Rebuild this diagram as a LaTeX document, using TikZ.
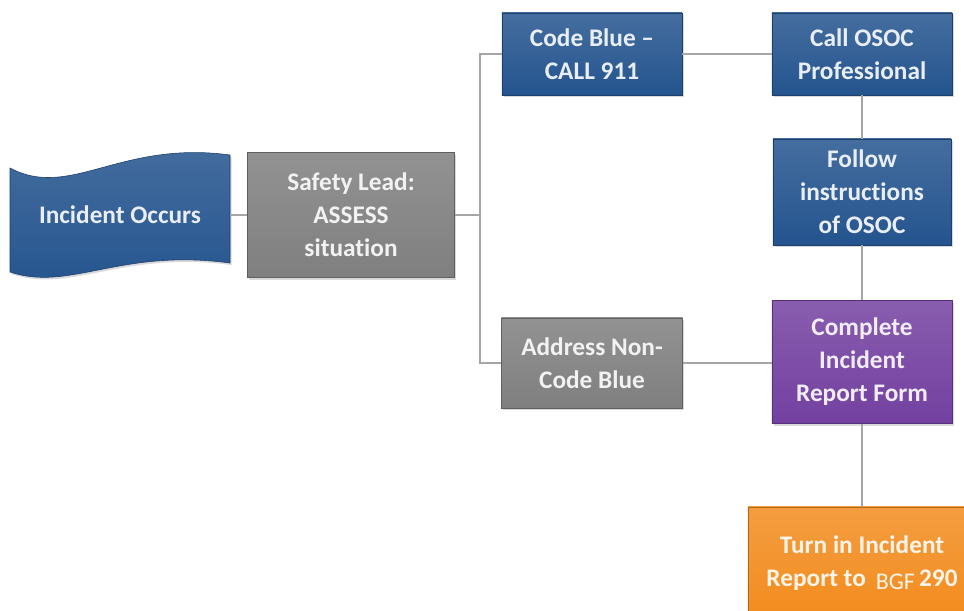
\documentclass[tikz,border=0pt]{standalone}
\usepackage{fontspec}
\setmainfont{Carlito}[Ligatures=NoCommon]
\usetikzlibrary{shadows}
\definecolor{cblue}{HTML}{24548E}
\definecolor{cgray}{HTML}{7F7F7F}
\definecolor{cpurple}{HTML}{7340A0}
\definecolor{corange}{HTML}{F28C1E}
\definecolor{cline}{HTML}{A6A6A6}

\begin{document}
\begin{tikzpicture}[x=0.025cm,y=-0.025cm,
	box/.style={rectangle,draw=#1!75!black,line width=0.4pt,top color=#1!85!white,bottom color=#1,
		text=white!90!#1,font=\fontsize{18}{23.5}\selectfont\bfseries,align=center,inner sep=0pt,
		drop shadow={shadow xshift=1.2pt,shadow yshift=-1.5pt,opacity=0.3}},
	link/.style={draw=cline,line width=1pt}]
	\useasboundingbox (0,0) rectangle (964,610);
	\clip (0,0) rectangle (964,610);
	% wave shape
	\path[top color=cblue!85!white,bottom color=cblue,draw=cblue!75!black,line width=0.4pt,
		drop shadow={shadow xshift=1.2pt,shadow yshift=-1.5pt,opacity=0.3}]
		(10,168) .. controls (70,200) and (120,140) .. (230,155) -- (230,263)
		.. controls (120,248) and (70,292) .. (10,272) -- cycle;
	\node[text=white!90!cblue,font=\fontsize{18}{23.5}\selectfont\bfseries,
		minimum width=5.5cm,inner sep=0pt] (occ) at (120,215) {Incident Occurs};
	\node[box=cgray,minimum width=5.175cm,minimum height=3.125cm] (lead) at (351,215) {Safety Lead:\\ASSESS\\situation};
	\node[box=cblue,minimum width=4.5cm,minimum height=2.05cm] (blue) at (592,54) {Code Blue --\\CALL 911};
	\node[box=cblue,minimum width=4.5cm,minimum height=2.05cm] (osoc) at (862,54) {Call OSOC\\Professional};
	\node[box=cblue,minimum width=4.45cm,minimum height=2.65cm] (follow) at (862,192) {Follow\\instructions\\of OSOC};
	\node[box=cgray,minimum width=4.525cm,minimum height=2.25cm] (nonblue) at (592,363) {Address Non-\\Code Blue};
	\node[box=cpurple,minimum width=4.5cm,minimum height=3.075cm] (form) at (862,362) {Complete\\Incident\\Report Form};
	\node[box=corange,minimum width=5.7cm,minimum height=2.8cm] (turn) at (862,563)
		{Turn in Incident\\Report to\, \raisebox{-2pt}{\fontsize{17}{17}\selectfont\mdseries BGF}\,290};
	% connectors
	\coordinate (J) at (480,215);
	\draw[link] (occ) -- (lead);
	\draw[link] (lead) -- (J);
	\draw[link] (blue.west) -| (J) |- (nonblue.west);
	\draw[link] (blue) -- (osoc);
	\draw[link] (osoc) -- (follow);
	\draw[link] (follow) -- (form);
	\draw[link] (form) -- (turn);
	\draw[link] (nonblue) -- (nonblue -| form.west);
\end{tikzpicture}
\end{document}
